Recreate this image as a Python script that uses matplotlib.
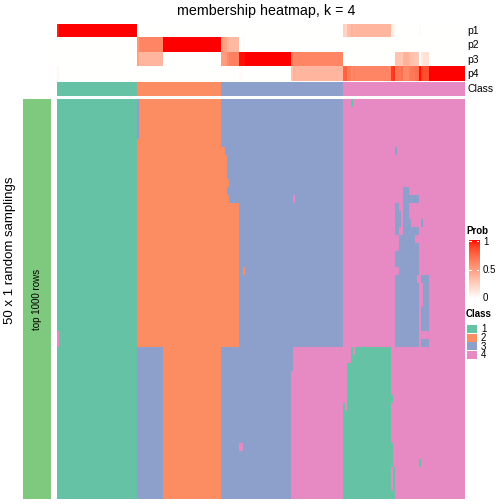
import numpy as np
import matplotlib
matplotlib.use("Agg")
import matplotlib.pyplot as plt
from matplotlib.colors import ListedColormap, LinearSegmentedColormap

plt.rcParams['font.family'] = ['Liberation Sans', 'DejaVu Sans']

# --- data ---
class_ids = [1, 2, 3, 4]
class_sizes = [40, 42, 61, 61]          # columns per assigned class
class_colors = ['#66C2A5', '#FC8D62', '#8DA0CB', '#E78AC3']
n_samplings = 50
prob_labels = ['p1', 'p2', 'p3', 'p4']
title = 'membership heatmap, k = 4'

# cells that differ from the assigned class: (row0, row1, col0, col1, class)
patches = [
    (29, 31, 0, 1, 4),
    (0, 5, 40, 41, 3),
    (31, 50, 40, 53, 3),
    (6, 7, 82, 84, 2),
    (7, 10, 82, 85, 2),
    (10, 11, 82, 86, 2),
    (11, 12, 82, 85, 2),
    (12, 13, 82, 86, 2),
    (13, 31, 82, 91, 2),
    (21, 22, 93, 94, 2),
    (43, 44, 91, 93, 4),
    (12, 13, 118, 119, 4),
    (31, 34, 118, 143, 4),
    (34, 50, 117, 143, 4),
    (0, 1, 147, 148, 1),
    (6, 7, 169, 170, 3),
    (11, 12, 173, 176, 3),
    (12, 13, 173, 181, 3),
    (13, 14, 169, 171, 3), (13, 14, 173, 176, 3),
    (14, 15, 169, 172, 3), (14, 15, 173, 176, 3),
    (15, 16, 169, 172, 3), (15, 16, 173, 177, 3), (15, 16, 182, 183, 3),
    (16, 17, 169, 171, 3), (16, 17, 173, 181, 3),
    (17, 18, 171, 179, 3),
    (18, 19, 171, 181, 3),
    (19, 21, 169, 181, 3),
    (21, 22, 171, 181, 3),
    (22, 23, 169, 180, 3), (22, 23, 182, 186, 3),
    (23, 26, 169, 181, 3), (23, 26, 183, 186, 3),
    (26, 29, 169, 181, 3), (26, 29, 182, 186, 3),
    (29, 30, 169, 181, 3),
    (30, 31, 169, 181, 3), (30, 31, 182, 186, 3),
    (31, 32, 147, 148, 1), (31, 32, 149, 167, 1),
    (32, 33, 147, 167, 1),
    (33, 37, 145, 167, 1),
    (37, 38, 145, 168, 1),
    (38, 39, 143, 144, 1), (38, 39, 145, 167, 1),
    (39, 43, 143, 167, 1),
    (43, 46, 143, 168, 1),
    (45, 46, 181, 182, 1),
    (46, 49, 143, 167, 1), (46, 49, 168, 169, 1),
    (49, 50, 143, 169, 1),
]

col_class = np.repeat(class_ids, class_sizes)
mat = np.tile(col_class, (n_samplings, 1))
for r0, r1, c0, c1, k in patches:
    mat[r0:r1, c0:c1] = k
# membership = share of samplings giving each class
prob = np.array([(mat == k).mean(axis=0) for k in class_ids])


# white -> red, interpolated in LAB like ComplexHeatmap
def lab2rgb(L, a, b):
    fy = (L + 16) / 116
    fx = fy + a / 500
    fz = fy - b / 200
    finv = lambda t: t ** 3 if t > 6 / 29 else 3 * (6 / 29) ** 2 * (t - 4 / 29)
    X, Y, Z = 0.95047 * finv(fx), finv(fy), 1.08883 * finv(fz)
    rgb = [3.2406 * X - 1.5372 * Y - 0.4986 * Z,
           -0.9689 * X + 1.8758 * Y + 0.0415 * Z,
           0.0557 * X - 0.2040 * Y + 1.0570 * Z]
    out = []
    for c in rgb:
        c = 12.92 * c if c <= 0.0031308 else 1.055 * c ** (1 / 2.4) - 0.055
        out.append(min(max(c, 0), 1))
    return out


white_lab = np.array([100.0, 0, 0])
red_lab = np.array([53.24, 80.09, 67.20])
prob_cmap = LinearSegmentedColormap.from_list(
    'prob', [lab2rgb(*(white_lab + t * (red_lab - white_lab))) for t in np.linspace(0, 1, 21)])
class_cmap = ListedColormap(class_colors)

W = H = 504
fig = plt.figure(figsize=(5.04, 5.04), dpi=100)


def box(x0, y0, x1, y1):
    return [x0 / W, 1 - y1 / H, (x1 - x0) / W, (y1 - y0) / H]


ax_p = fig.add_axes(box(57, 24, 465, 81))
ax_p.imshow(prob, cmap=prob_cmap, vmin=0, vmax=1, aspect='auto', interpolation='nearest')
ax_p.axis('off')

ax_c = fig.add_axes(box(57, 82, 465, 96))
ax_c.imshow(col_class[None, :] - 1, cmap=class_cmap, vmin=0, vmax=3, aspect='auto', interpolation='nearest')
ax_c.axis('off')

ax_h = fig.add_axes(box(57, 99, 465, 499))
ax_h.imshow(mat - 1, cmap=class_cmap, vmin=0, vmax=3, aspect='auto', interpolation='nearest')
ax_h.axis('off')

ax_l = fig.add_axes(box(23, 99, 51, 499))
ax_l.imshow(np.zeros((1, 1)), cmap=ListedColormap(['#7FC97F']), aspect='auto')
ax_l.axis('off')
ax_l.text(0, 0, 'top 1000 rows', rotation=90, ha='center', va='center', fontsize=7)

fig.text(266 / W, 1 - 11 / H, title, ha='center', va='center', fontsize=10.3)
fig.text(10 / W, 1 - 250 / H, '50 x 1 random samplings', rotation=90,
         ha='center', va='center', fontsize=9.5)

for i, lab in enumerate(prob_labels):
    fig.text(467 / W, 1 - (24 + 14.25 * (i + 0.5)) / H, lab, va='center', fontsize=7.5)
fig.text(467 / W, 1 - 89 / H, 'Class', va='center', fontsize=7.5)

# legends
fig.text(466 / W, 1 - 231 / H, 'Prob', va='center', fontsize=7, fontweight='bold')
ax_cb = fig.add_axes(box(469, 240, 479, 299))
ax_cb.imshow(np.linspace(1, 0, 100)[:, None], cmap=prob_cmap, vmin=0, vmax=1,
             aspect='auto', extent=[0, 1, 0, 1])
for v in [1, 0.5]:
    yv = 0.017 + v * 0.966
    ax_cb.plot([0, 0.2], [yv, yv], color='white', lw=0.8)
    ax_cb.plot([0.8, 1], [yv, yv], color='white', lw=0.8)
ax_cb.set_xlim(0, 1)
ax_cb.set_ylim(0, 1)
ax_cb.axis('off')
for v, lab in zip([1, 0.5, 0], ['1', '0.5', '0']):
    fig.text(483 / W, 1 - (298 - v * 56) / H, lab, va='center', fontsize=7)

fig.text(466 / W, 1 - 314 / H, 'Class', va='center', fontsize=7, fontweight='bold')
for i, k in enumerate(class_ids):
    y0 = 325 + i * 8.6
    ax_k = fig.add_axes(box(467, y0, 477, y0 + 8))
    ax_k.imshow([[i]], cmap=class_cmap, vmin=0, vmax=3, aspect='auto')
    ax_k.axis('off')
    fig.text(481 / W, 1 - (y0 + 4.3) / H, str(k), va='center', fontsize=7)

fig.savefig('out.png', dpi=100)
